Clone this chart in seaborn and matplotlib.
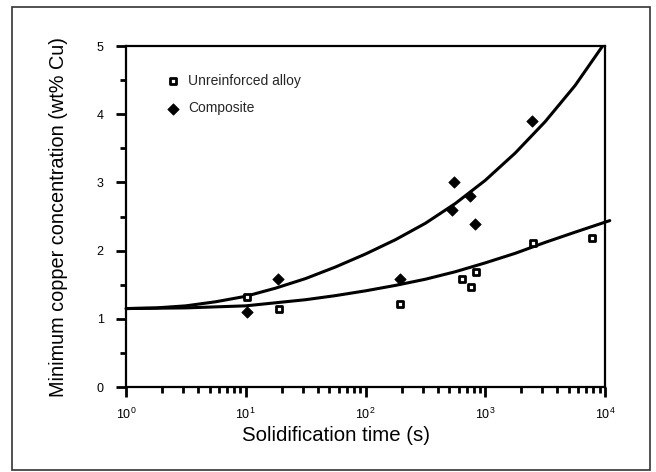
import numpy as np
import matplotlib
matplotlib.use("Agg")
import matplotlib.pyplot as plt
import seaborn as sns
from matplotlib.ticker import LogLocator, MultipleLocator, NullFormatter
from matplotlib.patches import Rectangle

# ---- data ----
unreinforced_time = [10.3, 19, 194, 643, 756, 841, 2520, 7830]
unreinforced_cu = [1.32, 1.14, 1.21, 1.59, 1.46, 1.68, 2.11, 2.18]

composite_time = [10.3, 18.7, 194, 548, 531, 746, 826, 2443]
composite_cu = [1.10, 1.58, 1.59, 3.00, 2.59, 2.80, 2.39, 3.90]

# fitted curves
composite_fit_time = [1, 1.78, 3.16, 5.62, 10, 17.8, 31.6, 56.2, 100, 178, 316, 562, 1000, 1778, 3162, 5623, 9550]
composite_fit_cu = [1.15, 1.16, 1.19, 1.25, 1.33, 1.45, 1.59, 1.76, 1.95, 2.16, 2.40, 2.69, 3.03, 3.43, 3.89, 4.42, 5.00]

unreinforced_fit_time = [1, 3.16, 10, 31.6, 56.2, 100, 178, 316, 562, 1000, 1778, 3162, 5623, 10960]
unreinforced_fit_cu = [1.15, 1.16, 1.19, 1.28, 1.34, 1.41, 1.49, 1.58, 1.69, 1.82, 1.96, 2.12, 2.27, 2.44]

xtick_values = [1, 10, 100, 1000, 10000]
xtick_labels = ["$10^{0}$", "$10^{1}$", "$10^{2}$", "$10^{3}$", "$10^{4}$"]
ytick_values = [0, 1, 2, 3, 4, 5]
ytick_labels = ["0", "1", "2", "3", "4", "5"]

# ---- style ----
sns.set_theme(style="ticks")
plt.rcParams["font.family"] = ["Liberation Sans", "DejaVu Sans"]
plt.rcParams["mathtext.fontset"] = "custom"
plt.rcParams["mathtext.rm"] = "Liberation Sans"
plt.rcParams["mathtext.it"] = "Liberation Sans"
plt.rcParams["mathtext.default"] = "regular"

fig = plt.figure(figsize=(6.56, 4.72), dpi=100)
fig.patch.set_facecolor("white")
ax = fig.add_axes([126 / 656, 1 - 387 / 472, (605 - 126) / 656, (387 - 46) / 472])
ax.set_facecolor("white")

sns.lineplot(x=composite_fit_time, y=composite_fit_cu, ax=ax, color="black",
             lw=2.2, sort=False, estimator=None, zorder=2)
sns.lineplot(x=unreinforced_fit_time, y=unreinforced_fit_cu, ax=ax, color="black",
             lw=2.2, sort=False, estimator=None, zorder=2, clip_on=False)

sns.scatterplot(x=unreinforced_time, y=unreinforced_cu, ax=ax, marker="s", s=17,
                color="white", edgecolor="black", linewidth=2.0, zorder=4,
                label="Unreinforced alloy")
sns.scatterplot(x=composite_time, y=composite_cu, ax=ax, marker="D", s=34,
                color="black", edgecolor="black", linewidth=0.5, zorder=4,
                label="Composite")

ax.set_xscale("log")
ax.set_xlim(1, 1e4)
ax.set_ylim(0, 5)
ax.set_xticks(xtick_values)
ax.set_xticklabels(xtick_labels)
ax.xaxis.set_minor_locator(LogLocator(base=10, subs=np.arange(2, 10)))
ax.xaxis.set_minor_formatter(NullFormatter())
ax.set_yticks(ytick_values)
ax.set_yticklabels(ytick_labels)
ax.yaxis.set_minor_locator(MultipleLocator(0.5))

ax.tick_params(which="major", direction="out", length=7, width=2, color="black",
               labelcolor="black")
ax.tick_params(which="minor", direction="out", length=4.5, width=2, color="black")
ax.tick_params(axis="x", which="major", labelsize=9, pad=7)
ax.tick_params(axis="y", which="major", labelsize=9, pad=9)

for side in ["left", "right", "top", "bottom"]:
    ax.spines[side].set_visible(True)
    ax.spines[side].set_color("black")
    ax.spines[side].set_linewidth(1.6)

ax.set_ylabel("Minimum copper concentration (wt% Cu)", fontsize=14.3, color="black")
ax.yaxis.set_label_coords(-0.121, 0.5)
ax.set_xlabel("Solidification time (s)", fontsize=14.7, color="black")
ax.xaxis.set_label_coords(0.438, -0.114)

leg = ax.legend(loc="upper left", bbox_to_anchor=(0.0835, 0.918), frameon=False,
                fontsize=10, handlelength=1.0, handletextpad=0.6, labelspacing=0.95,
                borderpad=0, borderaxespad=0)

fig.patches.append(Rectangle((12 / 656, 1 - 470 / 472), (650 - 12) / 656, (470 - 7) / 472,
                             transform=fig.transFigure, fill=False, lw=1.2,
                             edgecolor="#333333"))

fig.savefig("out.png", dpi=100)
